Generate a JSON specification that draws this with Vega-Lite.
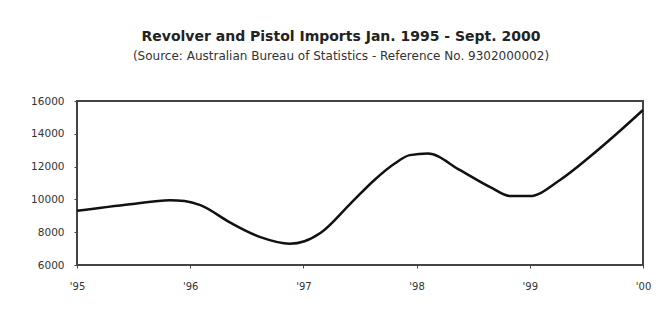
{
  "$schema": "https://vega.github.io/schema/vega-lite/v6.json",
  "autosize": "none",
  "width": 566,
  "height": 164,
  "padding": {"left": 77, "top": 101, "right": 20, "bottom": 47},
  "background": "white",
  "title": {
    "text": "Revolver and Pistol Imports Jan. 1995 - Sept. 2000",
    "subtitle": "(Source: Australian Bureau of Statistics - Reference No. 9302000002)",
    "font": "DejaVu Sans",
    "fontSize": 14,
    "fontWeight": "bold",
    "color": "#222",
    "subtitleFont": "DejaVu Sans",
    "subtitleFontSize": 12,
    "subtitleColor": "#333",
    "subtitlePadding": 7,
    "anchor": "middle",
    "dx": -19,
    "offset": 34
  },
  "data": {
    "values": [
      {"t": 1995.00, "v": 9300},
      {"t": 1995.47, "v": 9700},
      {"t": 1995.82, "v": 9950},
      {"t": 1995.95, "v": 9900},
      {"t": 1996.09, "v": 9650},
      {"t": 1996.35, "v": 8600},
      {"t": 1996.62, "v": 7700},
      {"t": 1996.88, "v": 7300},
      {"t": 1997.01, "v": 7450},
      {"t": 1997.15, "v": 7950},
      {"t": 1997.41, "v": 9700},
      {"t": 1997.63, "v": 11200},
      {"t": 1997.81, "v": 12200},
      {"t": 1997.94, "v": 12700},
      {"t": 1998.10, "v": 12800},
      {"t": 1998.38, "v": 11800},
      {"t": 1998.65, "v": 10750},
      {"t": 1998.83, "v": 10200},
      {"t": 1999.00, "v": 10200},
      {"t": 1999.27, "v": 11200},
      {"t": 1999.53, "v": 12600},
      {"t": 1999.80, "v": 14200},
      {"t": 2000.00, "v": 15450}
    ]
  },
  "mark": {"type": "line", "interpolate": "monotone", "color": "#111", "strokeWidth": 2.5},
  "encoding": {
    "x": {
      "field": "t",
      "type": "quantitative",
      "scale": {"domain": [1995, 2000], "nice": false, "zero": false},
      "axis": {
        "title": null,
        "values": [1995, 1996, 1997, 1998, 1999, 2000],
        "labelExpr": "\"'\" + substring(toString(datum.value), 2)",
        "grid": false,
        "domain": false,
        "ticks": true,
        "tickSize": 3,
        "tickColor": "#444",
        "labelFont": "DejaVu Sans",
        "labelFontSize": 10,
        "labelColor": "#333",
        "labelPadding": 13,
        "labelFlush": false
      }
    },
    "y": {
      "field": "v",
      "type": "quantitative",
      "scale": {"domain": [6000, 16000], "nice": false, "zero": false},
      "axis": {
        "title": null,
        "values": [6000, 8000, 10000, 12000, 14000, 16000],
        "format": "d",
        "grid": false,
        "domain": false,
        "ticks": true,
        "tickSize": 3,
        "tickColor": "#444",
        "labelFont": "DejaVu Sans",
        "labelFontSize": 10.5,
        "labelColor": "#333",
        "labelPadding": 10
      }
    }
  },
  "config": {
    "view": {"stroke": "#444", "strokeWidth": 2}
  }
}
